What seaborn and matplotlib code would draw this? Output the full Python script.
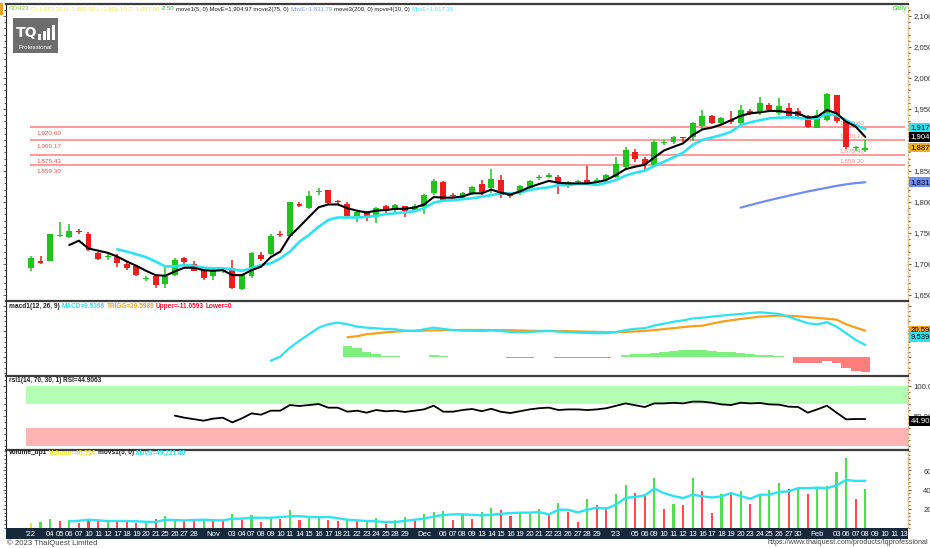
import numpy as np
import matplotlib
matplotlib.use("Agg")
import matplotlib.pyplot as plt
from matplotlib.patches import Rectangle
from matplotlib.ticker import AutoMinorLocator
from matplotlib import font_manager
import seaborn as sns

nan = np.nan

# ---- data ----
date_labels = ["'22", "", "04", "05", "06", "07", "10", "11", "12", "17", "18", "19", "20", "21",
               "25", "26", "27", "28", "", "Nov", "", "03", "04", "07", "08", "09", "10", "11",
               "14", "15", "16", "17", "18", "21", "22", "23", "24", "25", "28", "29", "", "Dec",
               "", "06", "07", "08", "09", "13", "14", "15", "16", "19", "20", "21", "22", "23",
               "26", "27", "28", "29", "", "'23", "", "05", "06", "09", "10", "11", "12", "13",
               "16", "17", "18", "19", "20", "23", "24", "25", "26", "27", "30", "", "Feb", "",
               "03", "06", "07", "08", "09", "10", "11", "13"]

opens = [1693, 1704, 1705, 1745, 1744, 1753, 1748, 1718, 1711, 1712, 1700, 1696, 1676, 1680,
         1667, 1683, 1709, 1700, 1690, 1680, 1689, 1693, 1659, 1680, 1714, 1716, 1748, 1745,
         1796, 1791, 1816, 1819, 1801, 1797, 1777, 1784, 1779, 1794, 1787, 1793, 1787, 1792,
         1814, 1832, 1812, 1806, 1814, 1829, 1822, 1836, 1813, 1814, 1822, 1838, 1841, 1840,
         1826, 1832, 1835, 1832, 1836, 1841, 1856, 1880, 1869, 1860, 1895, 1897, 1905, 1905,
         1923, 1939, 1928, 1932, 1927, 1947, 1943, 1956, 1943, 1951, 1946, 1938, 1920, 1932,
         1972, 1932, 1887, 1883.3]
highs = [1713, 1713, 1749, 1768, 1764, 1757, 1752, 1720, 1716, 1716, 1703, 1699, 1681, 1682,
         1695, 1709, 1712, 1704, 1694, 1693, 1693, 1707, 1684, 1719, 1719, 1748, 1753, 1800,
         1800, 1818, 1822, 1820, 1804, 1800, 1785, 1786, 1792, 1795, 1797, 1794, 1796, 1813,
         1837, 1834, 1814, 1816, 1826, 1835, 1853, 1843, 1815, 1827, 1836, 1843, 1846, 1843,
         1834, 1835, 1858, 1838, 1845, 1872, 1889, 1885, 1873, 1900, 1900, 1907, 1905, 1929,
         1948, 1941, 1937, 1946, 1956, 1950, 1970, 1960, 1967, 1959, 1951, 1940, 1948, 1976,
         1973, 1933, 1891, 1899.5]
lows = [1689, 1700, 1704, 1744, 1742, 1748, 1721, 1706, 1707, 1695, 1690, 1681, 1672, 1661,
        1661, 1680, 1700, 1688, 1674, 1674, 1685, 1660, 1658, 1677, 1704, 1715, 1744, 1744,
        1792, 1789, 1812, 1796, 1796, 1776, 1768, 1770, 1766, 1783, 1784, 1776, 1784, 1780,
        1812, 1802, 1806, 1803, 1812, 1812, 1814, 1807, 1806, 1812, 1820, 1836, 1838, 1813,
        1822, 1830, 1829, 1830, 1833, 1839, 1855, 1864, 1852, 1859, 1892, 1894, 1896, 1898,
        1918, 1926, 1925, 1926, 1925, 1940, 1941, 1945, 1941, 1938, 1936, 1919, 1919, 1930,
        1927, 1885, 1883, 1881.1]
closes = [1709, 1702, 1748, 1746, 1754, 1752, 1722, 1708, 1712, 1701, 1694, 1682, 1677, 1666,
          1680, 1707, 1703, 1689, 1677, 1688, 1690, 1661, 1683, 1717, 1708, 1745, 1746, 1800,
          1794, 1810, 1818, 1799, 1800, 1778, 1784, 1778, 1790, 1786, 1795, 1786, 1794, 1811,
          1834, 1804, 1810, 1814, 1824, 1816, 1837, 1811, 1810, 1825, 1834, 1840, 1843, 1830,
          1832, 1834, 1831, 1836, 1843, 1861, 1884, 1869, 1861, 1896, 1897, 1905, 1903, 1927,
          1938, 1928, 1935, 1929, 1949, 1943, 1959, 1948, 1955, 1939, 1939, 1921, 1940, 1974,
          1930, 1889, 1889, 1887.9]

move1_ma5 = [nan, nan, nan, nan, 1730.6, 1737.6, 1725, 1721.5, 1718, 1712, 1704, 1697, 1689,
             1682, 1681, 1688, 1694, 1694, 1690, 1689, 1690, 1682, 1682, 1690, 1695.6, 1711,
             1720, 1745, 1760, 1776, 1791.5, 1796, 1796, 1790, 1786, 1783, 1786, 1787, 1789,
             1789, 1791, 1796, 1808, 1807, 1807, 1809, 1814, 1814, 1820, 1815, 1812, 1817, 1824,
             1829, 1834, 1831, 1830, 1830, 1830, 1832, 1835.5, 1843.5, 1853, 1857, 1860, 1872,
             1883, 1889, 1894.6, 1908, 1917, 1920, 1925, 1932, 1939, 1943, 1944.6, 1946.8,
             1946.8, 1944.6, 1943, 1936, 1937.6, 1948.4, 1943, 1929.6, 1921.5, 1904.97]
move4_ma10 = [nan] * 9 + [1723.7, 1720, 1715.6, 1711, 1704, 1696, 1696, 1698.4, 1697, 1694,
                          1693, 1693, 1691.5, 1689, 1693, 1698.4, 1701, 1709, 1720, 1736, 1747,
                          1760, 1771, 1775, 1775, 1775, 1776, 1777.4, 1780.6, 1781.7, 1783.5,
                          1785, 1790, 1799, 1802, 1803, 1804.5, 1806, 1808.6, 1811, 1814, 1814,
                          1815, 1819.4, 1822, 1823.7, 1827.4, 1827.4, 1829, 1829, 1827.4, 1831,
                          1835.5, 1842.5, 1847.3, 1850.5, 1858, 1865, 1872, 1879.5, 1892, 1900,
                          1904, 1908, 1913.4, 1924, 1928.5, 1932, 1935, 1936, 1936.6, 1936, 1934,
                          1935, 1942, 1940, 1932, 1924, 1917.35]
move2_ma75 = [nan] * 74 + [1791, 1795, 1799, 1803, 1806.5, 1810, 1813.5, 1817, 1820, 1823,
                           1826, 1828.5, 1830.5, 1831.79]
levels = [1920.60, 1900.17, 1875.43, 1859.30]
level_labels = ["1,920.60", "1,900.17", "1,875.43", "1,859.30"]
price_ticks = [1650, 1700, 1750, 1800, 1850, 1950, 2000, 2050, 2100]

macd_line = [nan] * 25 + [-2.6, 0.5, 7.4, 12.8, 17.8, 22.9, 25.5, 26.8, 25.5, 23.7, 22.9, 22.4,
                          21.9, 21.6, 20.6, 20.3, 21.6, 22.9, 21.9, 21.1, 20.6, 20.5, 20.3, 20.8,
                          20.2, 19.6, 19.4, 19.6, 20.0, 20.3, 19.8, 19.4, 19.0, 18.8, 18.6, 18.6,
                          19.5, 21.0, 22.0, 22.5, 24.5, 26.0, 27.5, 28.5, 30.0, 30.6, 31.4, 32.2,
                          32.9, 33.5, 34.2, 34.8, 34.2, 33.5, 31.4, 28.8, 26.3, 25.5, 27.1, 23.7,
                          18.6, 13.4, 9.5396]
trigg_line = [nan] * 33 + [15.5, 16.3, 17.8, 18.5, 19.3, 19.8, 20.3, 20.5, 20.6, 20.8, 20.9,
                           21.0, 21.1, 21.1, 21.1, 21.0, 21.0, 20.9, 20.7, 20.5, 20.4, 20.4, 20.3,
                           20.2, 20.0, 19.8, 19.6, 19.4, 19.4, 19.6, 20.0, 20.4, 21.0, 21.8, 22.5,
                           23.3, 24.0, 24.4, 26.0, 27.5, 28.6, 29.6, 30.5, 31.4, 31.8, 32.2, 32.0,
                           31.7, 31.0, 30.4, 29.8, 29.1, 25.5, 22.9, 20.5989]
macd_hist = [nan] * 33 + [8.7, 7.0, 3.9, 2.3, 1.3, 1.0, 0.5, 0.3, 0.5, 1.5, 1.0, 0.5, 0.3, 0.3,
                          0.2, 0.4, 0.2, -0.3, -0.5, -0.3, 0.0, 0.2, -0.2, -0.4, -0.6, -0.6, -0.6,
                          -0.5, 0.2, 1.4, 2.2, 2.6, 3.5, 4.2, 5.0, 5.4, 5.8, 5.6, 5.0, 4.4, 3.8,
                          3.2, 2.6, 2.0, 1.5, 0.9, 0.0, -4.6, -4.6, -4.1, -2.6, -4.6, -8.5, -10.6,
                          -11.0593]

rsi_line = [nan] * 15 + [50.6, 47.2, 44.7, 42.2, 45.6, 47.2, 39.4, 46.1, 54.4, 52.2, 58.9, 58.9,
                         68.3, 66.7, 68.3, 70.0, 63.9, 63.9, 57.2, 58.9, 55.6, 60.0, 57.8, 58.9,
                         56.7, 58.9, 61.1, 67.2, 57.2, 57.2, 60.0, 61.7, 58.0, 62.0, 57.0, 55.0,
                         58.0, 61.0, 63.0, 64.0, 60.0, 61.0, 61.0, 60.0, 61.0, 63.0, 67.0, 71.0,
                         68.0, 65.0, 71.0, 71.0, 72.0, 71.0, 74.0, 73.9, 72.2, 69.4, 68.3, 72.2,
                         71.0, 71.7, 69.4, 68.9, 65.6, 65.0, 55.6, 61.1, 67.2, 55.6, 44.4, 45.0,
                         44.9063]

volume_k = [5.2, 6.2, 9.4, 7.3, 8.6, 5.2, 6.9, 7.3, 7.9, 5.8, 7.3, 5.2, 7.3, 9.0, 12.1, 7.9, 7.3,
            7.3, 7.9, 7.3, 6.9, 14.9, 8.6, 13.9, 5.8, 10.4, 9.7, 18.3, 8.6, 11.5, 11.5, 8.6, 6.9,
            8.6, 7.3, 6.9, 10.7, 4.5, 7.9, 11.0, 7.3, 14.9, 16.7, 17.3, 8.6, 13.9, 9.7, 16.7,
            21.2, 19.1, 12.1, 15.9, 15.9, 19.4, 13.1, 26.4, 16.7, 6.2, 30.5, 23.5, 21.9, 35.7,
            45.1, 36.8, 34.0, 52.1, 19.8, 25.3, 24.3, 52.4, 38.5, 15.9, 35.7, 35.0, 38.5, 25.3,
            33.3, 39.9, 47.2, 40.9, 42.0, 35.7, 41.6, 43.3, 58.3, 72.9, 30.5, 40.534]
volume_up = ["y", "g", "g", "r", "g", "r", "r", "r", "g", "r", "r", "r", "g", "r", "g", "g", "r",
             "r", "g", "r", "r", "g", "r", "g", "r", "g", "r", "g", "r", "g", "g", "r", "r", "g",
             "r", "g", "g", "r", "g", "g", "r", "g", "g", "g", "r", "g", "r", "g", "g", "r", "r",
             "g", "g", "g", "r", "g", "r", "r", "g", "r", "r", "g", "g", "r", "r", "g", "r", "g",
             "r", "g", "r", "r", "g", "r", "g", "r", "g", "g", "g", "r", "g", "r", "g", "g", "g",
             "g", "r", "g"]
movs_ma5_k = [nan] * 4 + [6.9, 7.5, 8.6, 8.0, 7.3, 7.3, 7.3, 7.0, 6.5, 6.2, 8.6, 8.3, 7.9, 8.3,
                          8.6, 8.2, 7.9, 9.7, 9.7, 10.7, 10.7, 10.7, 11.4, 12.1, 12.4, 11.5, 11.2,
                          11.5, 10.3, 8.6, 8.0, 7.3, 7.0, 6.2, 6.2, 7.5, 8.6, 9.7, 12.1, 13.5,
                          14.2, 14.2, 13.8, 13.2, 13.8, 14.8, 15.5, 16.0, 16.0, 16.6, 14.2, 19.0,
                          19.0, 16.3, 19.0, 21.2, 20.1, 24.3, 31.5, 32.3, 34.0, 41.0, 36.4, 33.3,
                          31.2, 34.7, 33.0, 31.8, 33.0, 36.4, 33.3, 30.5, 34.7, 34.7, 37.5, 38.2,
                          41.6, 41.6, 42.0, 41.6, 44.4, 50.3, 49.0, 49.2214]

# ---- styling ----
sns.set_theme(style="white")
names = {f.name for f in font_manager.fontManager.ttflist}
base_font = "Liberation Sans Narrow" if "Liberation Sans Narrow" in names else "Liberation Sans"
plt.rcParams["font.family"] = [base_font, "DejaVu Sans"]

GREEN = "#1fc41f"
RED = "#f01d1d"
CYAN = "#2de3f2"
W, H = 930, 548

fig = plt.figure(figsize=(W / 100, H / 100), dpi=100)
fig.patch.set_facecolor("white")


def px_axes(x0, y0, x1, y1):
    return fig.add_axes([x0 / W, 1 - y1 / H, (x1 - x0) / W, (y1 - y0) / H])


ax_p = px_axes(6, 4, 908, 299)
ax_m = px_axes(6, 301, 908, 375)
ax_r = px_axes(6, 376, 908, 449)
ax_v = px_axes(6, 450, 908, 528)
ax_d = px_axes(6, 528, 908, 539)

xs = np.arange(len(closes))
XLIM = (-2.6, 91.45)

for ax in (ax_p, ax_m, ax_r, ax_v):
    ax.set_facecolor("white")
    ax.set_xlim(*XLIM)
    ax.set_xticks([])
    for side in ("top", "left", "right", "bottom"):
        ax.spines[side].set_visible(True)
    ax.spines["top"].set_color("#3c3c3c")
    ax.spines["top"].set_linewidth(1.6)
    ax.spines["bottom"].set_visible(False)
    ax.spines["left"].set_color("#222222")
    ax.spines["left"].set_linewidth(0.8)
    ax.spines["right"].set_color("#d9b36a")
    ax.spines["right"].set_linestyle(":")
    ax.spines["right"].set_linewidth(1.0)
    ax.yaxis.set_ticks_position("both")
    ax.yaxis.set_label_position("right")
    ax.tick_params(axis="y", which="both", left=True, right=True, labelleft=False,
                   labelright=True, direction="out", length=2, width=0.6, color="#444444",
                   labelsize=5.6, labelcolor="#333333", pad=2)
    ax.yaxis.set_minor_locator(AutoMinorLocator(5))
    ax.tick_params(axis="y", which="minor", length=1.2)


def value_box(ax, y, label, fc, tc, dy=0.0):
    ax.annotate(label, xy=(1.0, y), xycoords=ax.get_yaxis_transform(), xytext=(2, dy),
                textcoords="offset points", ha="left", va="center", fontsize=5.6, color=tc,
                bbox=dict(boxstyle="square,pad=0.18", fc=fc, ec="none"),
                annotation_clip=False, zorder=10)


# ---- price panel ----
for i in xs:
    col = GREEN if closes[i] >= opens[i] else RED
    ax_p.vlines(i, lows[i], highs[i], color=col, lw=1.1, zorder=3)
    lo = min(opens[i], closes[i])
    ht = max(abs(closes[i] - opens[i]), 1.3)
    ax_p.bar(i, ht, bottom=lo, width=0.62, color=col, edgecolor=col, lw=0, zorder=4)

ax_p.hlines(levels, -0.1, 91.1, color="#ff7c7c", lw=1.1, zorder=2)
for lv, lab in zip(levels, level_labels):
    ax_p.annotate(lab, xy=(0.55, lv), xytext=(0, -2.5), textcoords="offset points",
                  ha="left", va="top", fontsize=4.6, color="#f05050", zorder=5)
    ax_p.annotate(lab, xy=(86.9, lv), xytext=(0, 1.5), textcoords="offset points",
                  ha="right", va="bottom", fontsize=4.6, color="#ff8a8a", zorder=2)

sns.lineplot(x=xs, y=move2_ma75, ax=ax_p, color="#6f8cf0", lw=1.6, zorder=5)
sns.lineplot(x=xs, y=move4_ma10, ax=ax_p, color=CYAN, lw=1.9, zorder=5)
sns.lineplot(x=xs, y=move1_ma5, ax=ax_p, color="black", lw=1.5, zorder=6)
ax_p.set_ylim(1643.5, 2119.4)
ax_p.set_yticks(price_ticks)
ax_p.set_yticklabels([f"{t:,.2f}" for t in price_ticks])
ax_p.set_xlabel("")
ax_p.set_ylabel("")

value_box(ax_p, move4_ma10[-1], "1,917.35", CYAN, "black", dy=1.2)
value_box(ax_p, move1_ma5[-1], "1,904.97", "black", "white")
value_box(ax_p, closes[-1], "1,887.90", "#f2b01e", "black")
value_box(ax_p, move2_ma75[-1], "1,831.79", "#6f8cf0", "black")

# ---- MACD panel ----
hist = np.array(macd_hist, dtype=float)
hist_cols = ["#7ef07e" if h >= 0 else "#ff7d7d" for h in np.nan_to_num(hist)]
ax_m.bar(xs, np.nan_to_num(hist), width=1.0, color=hist_cols, lw=0, zorder=2)
sns.lineplot(x=xs, y=trigg_line, ax=ax_m, color="#f7a01c", lw=1.6, zorder=4)
sns.lineplot(x=xs, y=macd_line, ax=ax_m, color=CYAN, lw=1.6, zorder=4)
ax_m.set_ylim(-13.7, 43.5)
ax_m.set_yticks([0, 20, 40])
ax_m.set_yticklabels([])
ax_m.set_xlabel("")
ax_m.set_ylabel("")
value_box(ax_m, trigg_line[-1], "20.5989", "#f7a01c", "black")
value_box(ax_m, macd_line[-1], "9.5396", CYAN, "black", dy=5.5)

# ---- RSI panel ----
ax_r.axhspan(70, 100, xmin=0.022, xmax=1, color="#b3ffb3", lw=0, zorder=1)
ax_r.axhspan(0, 30, xmin=0.022, xmax=1, color="#ffb3b3", lw=0, zorder=1)
sns.lineplot(x=xs, y=rsi_line, ax=ax_r, color="black", lw=1.3, zorder=4)
ax_r.set_ylim(-5, 116.7)
ax_r.set_yticks([50, 100])
ax_r.set_yticklabels(["50.000", "100.000"])
ax_r.set_xlabel("")
ax_r.set_ylabel("")
value_box(ax_r, rsi_line[-1], "44.9063", "black", "white", dy=-1.5)

# ---- volume panel ----
vol_palette = {"g": "#4fe04f", "r": "#ff4a4a", "y": "#f3e21a"}
ax_v.bar(xs, np.array(volume_k) * 1000, width=0.22,
         color=[vol_palette[c] for c in volume_up], lw=0, zorder=2)
sns.lineplot(x=xs, y=np.array(movs_ma5_k) * 1000, ax=ax_v, color=CYAN, lw=1.7, zorder=4)
ax_v.set_ylim(0, 81300)
ax_v.set_yticks([20000, 40000, 60000])
ax_v.set_yticklabels(["20,000", "40,000", "60,000"])
ax_v.tick_params(axis="y", which="major", pad=9)
ax_v.set_xlabel("")
ax_v.set_ylabel("")

# ---- date bar ----
ax_d.set_facecolor("#16283c")
ax_d.set_xlim(*XLIM)
ax_d.set_ylim(0, 1)
ax_d.set_xticks([])
ax_d.set_yticks([])
for s in ax_d.spines.values():
    s.set_visible(False)
for i, lab in enumerate(date_labels):
    if lab:
        ax_d.text(i, 0.45, lab, ha="center", va="center", fontsize=5.6, color="white")

# ---- headers and decorations ----
renderer = fig.canvas.get_renderer()


def header(x_px, y_px, pieces, size=5.2, weight="normal", gap=2.0):
    x = x_px
    for s, c in pieces:
        t = fig.text(x / W, 1 - y_px / H, s, color=c, fontsize=size, fontweight=weight,
                     ha="left", va="center")
        x += t.get_window_extent(renderer=renderer).width + gap


fig.add_artist(Rectangle((0, 1 - 15 / H), 2.5 / W, 12 / H, transform=fig.transFigure,
                         color="#f0a020", lw=0))
header(9, 9, [("GOH23", "#8cc63f"),
              ("O: 1,883.30 H: 1,899.50 L: 1,881.10 C: 1,887.90", "#f4e55c"),
              ("-2.50", "#2fb52f"),
              ("move1(5, 0) MovE=1,904.97 move2(75, 0)", "#222222"),
              ("MovE=1,831.79", "#7f9cf5"),
              ("move3(200, 0) move4(10, 0)", "#222222"),
              ("MovE=1,917.35", "#5fe0ef")], size=4.35, gap=1.6)
header(9, 307, [("macd1(12, 26, 9)", "#222222"), ("MACD=9.5396", "#2de3f2"),
                ("TRIGG=20.5989", "#f7a01c"), ("Upper=-11.0593", "#e8182e"),
                ("Lower=0", "#e8182e")], size=4.7, weight="bold", gap=1.8)
header(9, 381, [("rsi1(14, 70, 30, 1) RSI=44.9063", "#222222")], size=4.7, weight="bold")
header(9, 453, [("volume_up1", "#222222"), ("Volume=40,534", "#f3e21a"),
                ("movs1(5, 0)", "#222222"), ("MovS=49,221.40", "#2de3f2")],
       size=4.7, weight="bold", gap=1.8)

fig.text(900 / W, 1 - 9 / H, "daily", color="#3fcf3f", fontsize=5.0, ha="center", va="center")

# logo
fig.add_artist(Rectangle((13 / W, 1 - 53 / H), 45 / W, 35 / H, transform=fig.transFigure,
                         color="#6d6d6d", lw=0))
fig.text(16 / W, 1 - 33 / H, "TQ", color="white", fontsize=10, fontweight="bold",
         ha="left", va="center", family="DejaVu Sans")
for k, hgt in enumerate([6, 9, 12, 15]):
    fig.add_artist(Rectangle(((38 + k * 4.5) / W, 1 - 40 / H), 3.2 / W, hgt / H,
                             transform=fig.transFigure, color="white", lw=0))
fig.text(35.5 / W, 1 - 47.5 / H, "Professional", color="white", fontsize=4.4,
         ha="center", va="center")

fig.text(7 / W, 1 - 543 / H, "\u00a9 2023 ThaiQuest Limited", color="#444444",
         fontsize=5.6, ha="left", va="center")
fig.text(928 / W, 1 - 543 / H, "https://www.thaiquest.com/products/tqprofessional",
         color="#444444", fontsize=5.2, ha="right", va="center")

fig.savefig("out.png", dpi=100)
